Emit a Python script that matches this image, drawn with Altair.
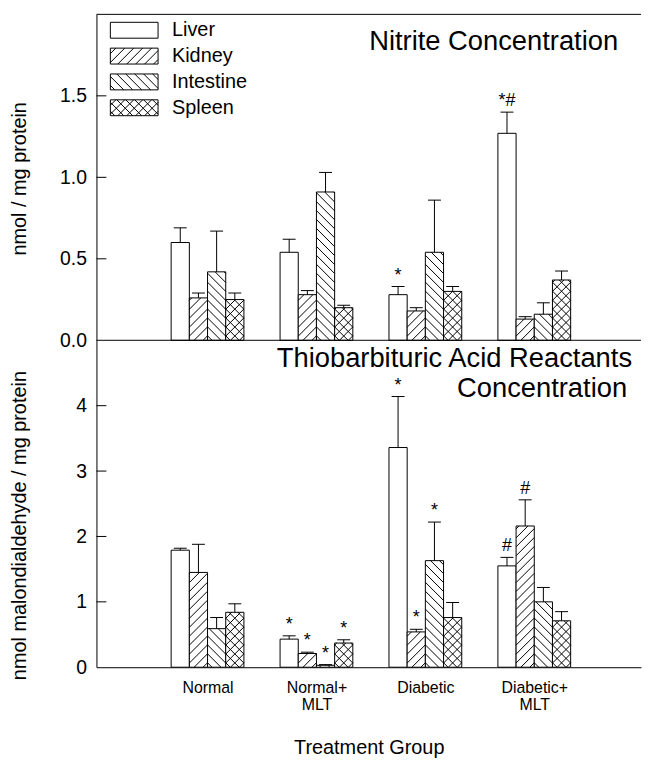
import json
import altair as alt
import pandas as pd

# ---------------- data ----------------
groups = ["Normal", "Normal+MLT", "Diabetic", "Diabetic+MLT"]
organs = ["Liver", "Kidney", "Intestine", "Spleen"]

# Nitrite concentration (nmol / mg protein), in group order
nitrite_liver = [0.60, 0.54, 0.28, 1.27]
nitrite_kidney = [0.26, 0.28, 0.18, 0.13]
nitrite_intestine = [0.42, 0.91, 0.54, 0.16]
nitrite_spleen = [0.25, 0.20, 0.30, 0.37]
nitrite_err_liver = [0.09, 0.08, 0.05, 0.13]
nitrite_err_kidney = [0.03, 0.025, 0.02, 0.015]
nitrite_err_intestine = [0.25, 0.12, 0.32, 0.07]
nitrite_err_spleen = [0.04, 0.015, 0.03, 0.055]
nitrite_sig_liver = ["", "", "*", "*#"]
nitrite_sig_kidney = ["", "", "", ""]
nitrite_sig_intestine = ["", "", "", ""]
nitrite_sig_spleen = ["", "", "", ""]

# TBARS (nmol malondialdehyde / mg protein), in group order
tbars_liver = [1.79, 0.43, 3.36, 1.55]
tbars_kidney = [1.45, 0.21, 0.54, 2.16]
tbars_intestine = [0.59, 0.03, 1.63, 1.00]
tbars_spleen = [0.84, 0.37, 0.76, 0.71]
tbars_err_liver = [0.03, 0.05, 0.78, 0.13]
tbars_err_kidney = [0.43, 0.02, 0.04, 0.40]
tbars_err_intestine = [0.17, 0.01, 0.59, 0.22]
tbars_err_spleen = [0.13, 0.05, 0.23, 0.14]
tbars_sig_liver = ["", "*", "*", "#"]
tbars_sig_kidney = ["", "*", "*", "#"]
tbars_sig_intestine = ["", "*", "*", ""]
tbars_sig_spleen = ["", "*", "", ""]

nitrite_ticks = [0.0, 0.5, 1.0, 1.5]
tbars_ticks = [0, 1, 2, 3, 4]

# ---------------- layout constants ----------------
FONT = "Liberation Sans"
W = 548
XMIN, XMAX = -0.02, 4.98
PXU = W / (XMAX - XMIN)  # pixels per x unit
BW = 0.167               # bar width (x units)
H_TOP = 328
H_BOT = 329
HATCH = 9.0              # hatch spacing in px
CAP = 6.5                # half width of error cap in px


def table(vals, errs, sigs):
    rows = []
    for oi, organ in enumerate(organs):
        for gi, group in enumerate(groups):
            rows.append(dict(group=group, organ=organ, gi=gi + 1, oi=oi,
                             value=vals[oi][gi], err=errs[oi][gi], sig=sigs[oi][gi]))
    return pd.DataFrame(rows)


nitrite_df = table(
    [nitrite_liver, nitrite_kidney, nitrite_intestine, nitrite_spleen],
    [nitrite_err_liver, nitrite_err_kidney, nitrite_err_intestine, nitrite_err_spleen],
    [nitrite_sig_liver, nitrite_sig_kidney, nitrite_sig_intestine, nitrite_sig_spleen],
)
tbars_df = table(
    [tbars_liver, tbars_kidney, tbars_intestine, tbars_spleen],
    [tbars_err_liver, tbars_err_kidney, tbars_err_intestine, tbars_err_spleen],
    [tbars_sig_liver, tbars_sig_kidney, tbars_sig_intestine, tbars_sig_spleen],
)


def add_hatch(ch):
    """Generate hatch segments (pixel units) inside boxes bx,bw,by,bh (y up)."""
    S = HATCH
    return (
        ch.transform_calculate(
            dirs="datum.organ === 'Kidney' ? [1] : datum.organ === 'Intestine' ? [-1] : "
                 "datum.organ === 'Spleen' ? [1, -1] : []")
        .transform_flatten(["dirs"], as_=["dir"])
        .transform_calculate(kk=f"sequence(0, ceil((datum.bw + datum.bh) / {S}) + 2)")
        .transform_flatten(["kk"], as_=["k"])
        .transform_calculate(d=f"{S} * datum.k + {S / 2} - datum.bw")
        .transform_calculate(xa="max(0, -datum.d)", xb="min(datum.bw, datum.bh - datum.d)")
        .transform_filter("datum.xa < datum.xb")
        .transform_calculate(
            hx1="datum.bx + (datum.dir > 0 ? datum.xa : datum.bw - datum.xa)",
            hx2="datum.bx + (datum.dir > 0 ? datum.xb : datum.bw - datum.xb)",
            hy1="datum.by + datum.xa + datum.d",
            hy2="datum.by + datum.xb + datum.d",
        )
    )


label_lines = [g.replace("+", "+|").split("|") for g in groups]
x_label_expr = f"{json.dumps(label_lines)}[datum.value - 1]"
one_row = pd.DataFrame({"k": [0]})


def panel(df, ymax, height, yticks, yfmt, ytitle, ytitle_y, show_x, titles, legend):
    ppu = height / ymax
    xs = alt.Scale(domain=[XMIN, XMAX], nice=False, zero=False)
    ys = alt.Scale(domain=[0, ymax], nice=False, zero=False)

    if show_x:
        xaxis = alt.Axis(orient="bottom", values=[1, 2, 3, 4], labelExpr=x_label_expr,
                         ticks=False, grid=False, domainColor="black", labelColor="black",
                         labelFontSize=16, labelPadding=12, labelLineHeight=18,
                         labelAngle=0, labelFont=FONT,
                         title="Treatment Group", titleFontSize=20, titleFont=FONT,
                         titleFontWeight="normal", titleColor="black", titlePadding=25)
    else:
        xaxis = None

    yaxis = alt.Axis(orient="left", values=yticks, format=yfmt, ticks=False, grid=False,
                     domainColor="black", labelColor="black", labelFontSize=19.5,
                     labelFont=FONT, labelPadding=10, title=ytitle, titleFont=FONT,
                     titleFontSize=20, titleFontWeight="normal", titleColor="black",
                     titleX=-67, titleY=ytitle_y)

    # every layer carries the same scale and axis so they merge into one
    def XQ(field):
        return alt.X(field, type="quantitative", scale=xs, axis=xaxis)

    def YQ(field):
        return alt.Y(field, type="quantitative", scale=ys, axis=yaxis)

    base = alt.Chart(df).transform_calculate(
        xl=f"datum.gi - {2 * BW} + datum.oi * {BW}",
        xr=f"datum.xl + {BW}",
        xc=f"datum.xl + {BW / 2}",
        top="datum.value + datum.err",
        cl=f"datum.xc - {CAP / PXU}",
        cr=f"datum.xc + {CAP / PXU}",
    )

    bars = base.mark_rect(fill="white", stroke="black", strokeWidth=1).encode(
        x=XQ("xl"), x2=alt.X2("xr"), y=YQ("value"), y2=alt.datum(0),
    )

    hatch = add_hatch(
        base.transform_calculate(
            bx=f"(datum.xl - {XMIN}) * {PXU}", bw=f"{BW * PXU}", by="0",
            bh=f"datum.value * {ppu}")
    ).transform_calculate(
        X1=f"datum.hx1 / {PXU} + {XMIN}", X2=f"datum.hx2 / {PXU} + {XMIN}",
        Y1=f"datum.hy1 / {ppu}", Y2=f"datum.hy2 / {ppu}",
    ).mark_rule(color="black", strokeWidth=1).encode(
        x=XQ("X1"), x2=alt.X2("X2"), y=YQ("Y1"), y2=alt.Y2("Y2"),
    )

    err = base.mark_rule(color="black", strokeWidth=1).encode(
        x=XQ("xc"), y=YQ("value"), y2=alt.Y2("top"),
    )
    cap = base.mark_rule(color="black", strokeWidth=1).encode(
        x=XQ("cl"), x2=alt.X2("cr"), y=YQ("top"),
    )
    sig = base.transform_filter("datum.sig != ''").mark_text(
        baseline="bottom", dy=-2, fontSize=18, font=FONT, color="black"
    ).encode(x=XQ("xc"), y=YQ("top"), text="sig:N")

    tick_df = pd.DataFrame({"t": [t for t in yticks if t != 0]})
    ticks = alt.Chart(tick_df).mark_rule(color="black", strokeWidth=1).encode(
        y=YQ("t"), x=alt.value(0), x2=alt.value(10))

    layers = [bars, hatch, err, cap, sig, ticks]
    if legend:
        layers.append(alt.Chart(one_row).mark_rule(color="black", strokeWidth=1).encode(
            x=alt.value(0), x2=alt.value(W), y=alt.value(0)))
        layers.append(alt.Chart(one_row).mark_rule(color="black", strokeWidth=1).encode(
            x=alt.value(0), x2=alt.value(W), y=alt.value(height)))

    for (txt, xr_, yb_) in titles:
        layers.append(
            alt.Chart(one_row).mark_text(
                text=txt, align="right", baseline="alphabetic", fontSize=27.5,
                font=FONT, color="black"
            ).encode(x=alt.value(xr_), y=alt.value(yb_))
        )

    if legend:
        # legend laid out in pixels, converted to data units of this panel
        leg = alt.Chart(pd.DataFrame({"organ": organs, "i": list(range(len(organs)))})
                        ).transform_calculate(
            bx="14", bw="48", bh="16",
            by=f"{height} - 8 - 16 - 26 * datum.i",
            tx="76", ty="datum.by + 8",
        ).transform_calculate(
            BX1=f"datum.bx / {PXU} + {XMIN}", BX2=f"(datum.bx + datum.bw) / {PXU} + {XMIN}",
            BY1=f"datum.by / {ppu}", BY2=f"(datum.by + datum.bh) / {ppu}",
            TX=f"datum.tx / {PXU} + {XMIN}", TY=f"datum.ty / {ppu}",
        )
        boxes = leg.mark_rect(fill="white", stroke="black", strokeWidth=1).encode(
            x=XQ("BX1"), x2=alt.X2("BX2"), y=YQ("BY1"), y2=alt.Y2("BY2"),
        )
        lhatch = add_hatch(leg).transform_calculate(
            X1=f"datum.hx1 / {PXU} + {XMIN}", X2=f"datum.hx2 / {PXU} + {XMIN}",
            Y1=f"datum.hy1 / {ppu}", Y2=f"datum.hy2 / {ppu}",
        ).mark_rule(color="black", strokeWidth=1).encode(
            x=XQ("X1"), x2=alt.X2("X2"), y=YQ("Y1"), y2=alt.Y2("Y2"),
        )
        ltext = leg.mark_text(align="left", baseline="middle", fontSize=20,
                              font=FONT, color="black").encode(
            x=XQ("TX"), y=YQ("TY"), text="organ:N",
        )
        layers += [boxes, lhatch, ltext]

    return alt.layer(*layers).properties(
        width=W, height=height,
        view=alt.ViewBackground(stroke="transparent", strokeWidth=0),
    )


top = panel(nitrite_df, 2.0, H_TOP, nitrite_ticks, ".1f", "nmol / mg protein", 165,
            False, [("Nitrite Concentration", 525, 36)], True)
bottom = panel(tbars_df, 5.0, H_BOT, tbars_ticks, "d",
               "nmol malondialdehyde / mg protein", 186, True,
               [("Thiobarbituric Acid Reactants", 539, 27), ("Concentration", 534, 57)],
               False)

chart = (
    alt.vconcat(top, bottom, spacing=0, bounds="flush")
    .properties(padding={"left": 2, "top": 3, "right": 0, "bottom": 5})
    .configure(font=FONT)
    .configure_view(stroke="transparent", strokeWidth=0)
)

chart.save("out.html", embed_options={"renderer": "svg", "actions": False})
